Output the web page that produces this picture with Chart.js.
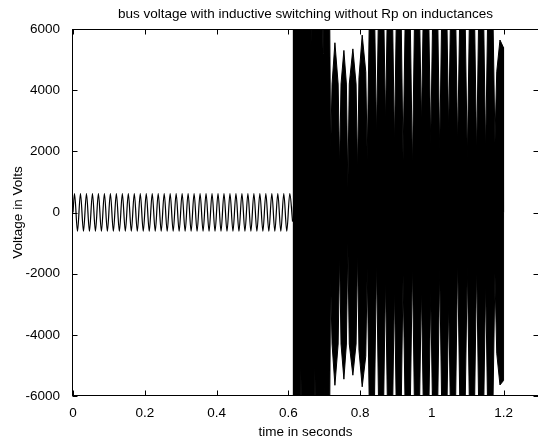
<!DOCTYPE html>
<html>
<head>
<meta charset="utf-8">
<script src="https://cdn.jsdelivr.net/npm/chart.js@4.4.1/dist/chart.umd.min.js"></script>
<style>
  html, body { margin: 0; padding: 0; background: #fff; overflow: hidden; }
</style>
</head>
<body>
<canvas id="chart" width="538" height="440"></canvas>
<script>
const titleText = 'bus voltage with inductive switching without Rp on inductances';
const xTitle = 'time in seconds';
const yTitle = 'Voltage in Volts';

const xTicks = [0, 0.2, 0.4, 0.6, 0.8, 1, 1.2];
const yTicks = [-6000, -4000, -2000, 0, 2000, 4000, 6000];

// 60 Hz steady state before the switching (peaks)
const steadyTimes = [0,
  0.0042, 0.0125, 0.0208, 0.0292, 0.0375, 0.0458, 0.0542, 0.0625, 0.0708, 0.0792,
  0.0875, 0.0958, 0.1042, 0.1125, 0.1208, 0.1292, 0.1375, 0.1458, 0.1542, 0.1625,
  0.1708, 0.1792, 0.1875, 0.1958, 0.2042, 0.2125, 0.2208, 0.2292, 0.2375, 0.2458,
  0.2542, 0.2625, 0.2708, 0.2792, 0.2875, 0.2958, 0.3042, 0.3125, 0.3208, 0.3292,
  0.3375, 0.3458, 0.3542, 0.3625, 0.3708, 0.3792, 0.3875, 0.3958, 0.4042, 0.4125,
  0.4208, 0.4292, 0.4375, 0.4458, 0.4542, 0.4625, 0.4708, 0.4792, 0.4875, 0.4958,
  0.5042, 0.5125, 0.5208, 0.5292, 0.5375, 0.5458, 0.5542, 0.5625, 0.5708, 0.5792,
  0.5875, 0.5958, 0.6042, 0.612];
const steadyVolts = [0,
  620, -610, 620, -610, 620, -610, 620, -610, 620, -610,
  620, -610, 620, -610, 620, -610, 620, -610, 620, -610,
  620, -610, 620, -610, 620, -610, 620, -610, 620, -610,
  620, -610, 620, -610, 620, -610, 620, -610, 620, -610,
  620, -610, 620, -610, 620, -610, 620, -610, 620, -610,
  620, -610, 620, -610, 620, -610, 620, -610, 620, -610,
  620, -610, 620, -610, 620, -610, 620, -610, 620, -610,
  620, -610, 620, -300];

// upper envelope of the fast oscillation after switching (off-scale peaks are clipped)
const upperTimes = [0.612, 0.6616, 0.663, 0.6644, 0.6956, 0.697, 0.6984, 0.710,
  0.718, 0.722, 0.730, 0.739, 0.743, 0.747, 0.755, 0.762, 0.766, 0.770, 0.780,
  0.789, 0.793, 0.797, 0.806, 0.816, 0.820, 0.833,
  0.846, 0.8585, 0.871, 0.8835, 0.896, 0.908, 0.920, 0.933, 0.946, 0.9585,
  0.971, 0.984, 0.997, 1.0095, 1.022, 1.0345, 1.047, 1.0595, 1.072, 1.0855,
  1.099, 1.112, 1.125, 1.1375, 1.150, 1.163, 1.176, 1.181, 1.190, 1.1995, 1.2];
const upperVolts = [16000, 6050, 5400, 6050, 6050, 5200, 6050, 16000,
  1950, 4200, 5550, 4200, 1490, 4200, 5300, 4200, 800, 4200, 5350,
  4200, 1330, 4400, 5800, 4600, 1715, 12000,
  2480, 12000, 2920, 12000, 2200, 12000, 1715, 12000, 1390, 12000,
  2800, 12000, 2200, 12000, 1990, 12000, 2600, 12000, 2150, 12000,
  1715, 12000, 1820, 12000, 1945, 12000, 2300, 4600, 5640, 5400, 0];

// lower envelope
const lowerTimes = [0.612, 0.6336, 0.635, 0.6364, 0.6726, 0.674, 0.6754, 0.6996, 0.701, 0.7024, 0.710,
  0.718, 0.722, 0.730, 0.739, 0.743, 0.747, 0.755, 0.762, 0.766, 0.770, 0.780,
  0.789, 0.793, 0.797, 0.806, 0.816, 0.820, 0.833,
  0.846, 0.8585, 0.871, 0.8835, 0.896, 0.908, 0.920, 0.933, 0.946, 0.9585,
  0.971, 0.984, 0.997, 1.0095, 1.022, 1.0345, 1.047, 1.0595, 1.072, 1.0855,
  1.099, 1.112, 1.125, 1.1375, 1.150, 1.163, 1.176, 1.181, 1.190, 1.1995, 1.2];
const lowerVolts = [-16000, -6050, -5080, -6050, -6050, -5080, -6050, -6050, -4590, -6050, -16000,
  -2140, -4300, -5650, -4300, -1320, -4300, -5450, -4300, -1000, -4300, -5320,
  -4300, -1230, -4500, -5700, -4700, -1810, -12000,
  -1550, -12000, -2100, -12000, -2430, -12000, -2040, -12000, -1620, -12000,
  -2370, -12000, -2600, -12000, -1780, -12000, -2860, -12000, -1450, -12000,
  -1720, -12000, -1650, -12000, -2200, -12000, -2000, -4600, -5640, -5500, 0];

const toPoints = (xs, ys) => xs.map((x, i) => ({ x: x, y: ys[i] }));

const fontFamily = '"Liberation Sans", Arial, Helvetica, sans-serif';
const fontSize = 13.5;
Chart.defaults.font.family = fontFamily;
Chart.defaults.font.size = fontSize;
Chart.defaults.color = '#000';

// box round the axes with inward ticks, plus the title
const boxPlugin = {
  id: 'matlabBox',
  afterDatasetsDraw(chart) {
    const { ctx, chartArea: a, scales: { x, y } } = chart;
    const l = Math.round(a.left) - 0.5;
    const r = Math.round(a.right) + 0.5;
    const t = Math.round(a.top) + 0.5;
    const b = Math.round(a.bottom) - 0.5;
    ctx.save();
    ctx.strokeStyle = '#000';
    ctx.lineWidth = 1;
    ctx.strokeRect(l, t, r - l, b - t);
    ctx.beginPath();
    xTicks.forEach(v => {
      const px = Math.round(x.getPixelForValue(v)) + 0.5;
      ctx.moveTo(px, b); ctx.lineTo(px, b - 5);
      ctx.moveTo(px, t); ctx.lineTo(px, t + 5);
    });
    yTicks.forEach(v => {
      const py = Math.round(y.getPixelForValue(v)) + 0.5;
      ctx.moveTo(l, py); ctx.lineTo(l + 5, py);
      ctx.moveTo(r, py); ctx.lineTo(r - 5, py);
    });
    ctx.stroke();

    ctx.fillStyle = '#000';
    ctx.font = fontSize + 'px ' + fontFamily;
    ctx.textAlign = 'center';
    ctx.textBaseline = 'middle';
    ctx.fillText(titleText, (a.left + a.right) / 2, 14);
    ctx.restore();
  }
};

const ctx = document.getElementById('chart').getContext('2d');
new Chart(ctx, {
  type: 'line',
  data: {
    datasets: [
      {
        label: 'steady',
        data: toPoints(steadyTimes, steadyVolts),
        borderColor: '#000',
        borderWidth: 1.2,
        pointRadius: 0,
        cubicInterpolationMode: 'monotone',
        fill: false,
        clip: 0,
      },
      {
        label: 'upper',
        data: toPoints(upperTimes, upperVolts),
        borderColor: '#000',
        backgroundColor: '#000',
        borderWidth: 1,
        pointRadius: 0,
        tension: 0,
        fill: { value: -200 },
        clip: 0,
      },
      {
        label: 'lower',
        data: toPoints(lowerTimes, lowerVolts),
        borderColor: '#000',
        backgroundColor: '#000',
        borderWidth: 1,
        pointRadius: 0,
        tension: 0,
        fill: { value: 200 },
        clip: 0,
      },
    ],
  },
  options: {
    responsive: false,
    animation: false,
    layout: { padding: { top: 29, right: 0, bottom: 0, left: 0 } },
    plugins: {
      legend: { display: false },
      tooltip: { enabled: false },
      title: { display: false },
    },
    scales: {
      x: {
        type: 'linear',
        min: 0,
        max: 1.296,
        afterBuildTicks: s => { s.ticks = xTicks.map(v => ({ value: v })); },
        afterFit: s => { s.height = 44; },
        grid: { display: false },
        border: { display: false },
        ticks: {
          autoSkip: false,
          maxRotation: 0,
          padding: 1,
          callback: v => String(v),
        },
        title: {
          display: true,
          text: xTitle,
          padding: { top: 0, bottom: 0 },
        },
      },
      y: {
        min: -6000,
        max: 6000,
        afterBuildTicks: s => { s.ticks = yTicks.map(v => ({ value: v })); },
        afterFit: s => { s.width = 73; },
        grid: { display: false },
        border: { display: false },
        ticks: {
          padding: 5,
          callback: v => String(v),
        },
        title: {
          display: true,
          text: yTitle,
          padding: { top: 10, bottom: 0 },
        },
      },
    },
  },
  plugins: [boxPlugin],
});
</script>
</body>
</html>
